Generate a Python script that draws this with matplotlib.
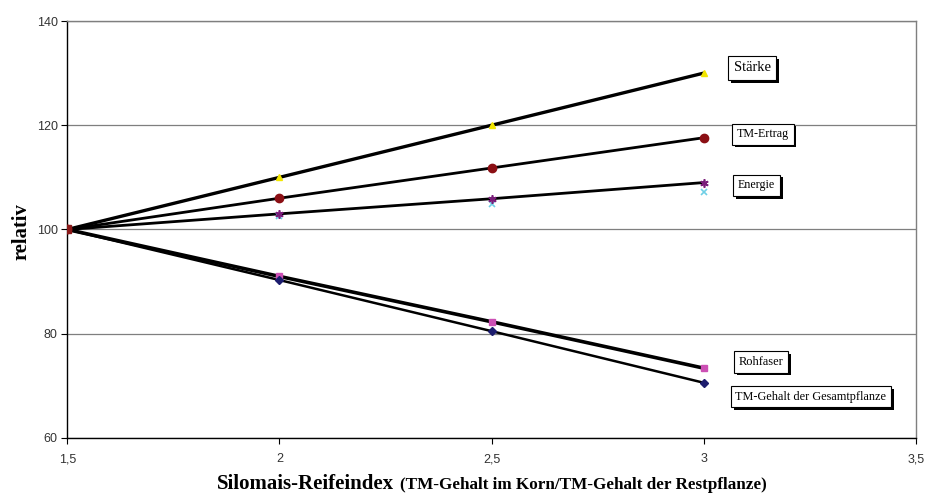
import matplotlib
matplotlib.use("Agg")
import matplotlib.pyplot as plt
import matplotlib.patheffects as pe

# Reifeindex values and relative response (1,5 = 100)
reifeindex = [1.5, 2.0, 2.5, 3.0]
staerke = [100, 110, 120, 130]
tm_ertrag = [100, 106, 111.8, 117.6]
energie = [100, 103, 105.9, 109]
energie_b = [100, 102.5, 104.8, 107.1]
rohfaser = [100, 91, 82.3, 73.4]
tm_gehalt = [100, 90.3, 80.5, 70.6]

x_ticks = [1.5, 2.0, 2.5, 3.0, 3.5]
x_ticklabels = ["1,5", "2", "2,5", "3", "3,5"]
y_ticks = [60, 80, 100, 120, 140]

W, H = 925, 493
fig = plt.figure(figsize=(W / 100, H / 100), dpi=100)
ax = fig.add_axes([0.0728, 0.1116, 0.9172, 0.8458])
renderer = fig.canvas.get_renderer()


def fit_size(artist, target_px, horizontal=True):
    # scale the font so the drawn text spans target_px
    bb = artist.get_window_extent(renderer)
    span = bb.width if horizontal else bb.height
    artist.set_fontsize(artist.get_fontsize() * target_px / span)


ax.set_xlim(1.5, 3.5)
ax.set_ylim(60, 140)
ax.set_xticks(x_ticks)
ax.set_xticklabels(x_ticklabels)
ax.set_yticks(y_ticks)
ax.tick_params(axis="both", direction="out", length=4, width=0.8, labelsize=9,
               colors="black")
ax.tick_params(axis="y", pad=3)
ax.tick_params(axis="x", pad=7)
for lbl in ax.get_xticklabels() + ax.get_yticklabels():
    lbl.set_fontfamily("Liberation Sans")
    lbl.set_color("#333333")

ax.grid(axis="y", color="#7f7f7f", linewidth=0.9)
ax.set_axisbelow(True)
for side in ("top", "right"):
    ax.spines[side].set_color("#7f7f7f")
    ax.spines[side].set_linewidth(1.0)
for side in ("left", "bottom"):
    ax.spines[side].set_color("black")
    ax.spines[side].set_linewidth(1.0)

# black connecting lines
for series, lw in [(staerke, 2.4), (tm_ertrag, 2.0), (energie, 2.0),
                   (rohfaser, 2.6), (tm_gehalt, 1.8)]:
    ax.plot(reifeindex, series, color="black", linewidth=lw, zorder=3)

# markers
ax.plot(reifeindex, staerke, linestyle="none", marker="^", ms=5, color="#f2e600", zorder=4)
ax.plot(reifeindex, tm_ertrag, linestyle="none", marker="o", ms=6, color="#8b0f14", zorder=4)
ax.plot(reifeindex, energie_b, linestyle="none", marker="x", ms=5, mew=1.2, color="#6fcfe6", zorder=4)
ax.plot(reifeindex, energie, linestyle="none", marker=(6, 2, 0), ms=6, mew=1.2, color="#7a1d7a", zorder=4)
ax.plot(reifeindex, rohfaser, linestyle="none", marker="s", ms=5, color="#cc4fb4", zorder=4)
ax.plot(reifeindex, tm_gehalt, linestyle="none", marker="D", ms=4, color="#1c1c6e", zorder=4)
ax.plot([1.5], [100], linestyle="none", marker="s", ms=6, color="#8b1a1a", zorder=5)

# series labels in shadowed boxes: (x, y, text, text width in px)
labels = [
    (3.114, 131.0, "Stärke", 37),
    (3.14, 118.3, "TM-Ertrag", 52),
    (3.125, 108.5, "Energie", 37),
    (3.135, 74.6, "Rohfaser", 45),
    (3.253, 67.9, "TM-Gehalt der Gesamtpflanze", 150),
]
for lx, ly, txt, wpx in labels:
    t = ax.text(lx, ly, txt, ha="center", va="center", fontsize=9,
                fontfamily="Liberation Serif", color="black", zorder=6)
    fit_size(t, wpx)
    t.set_bbox(dict(boxstyle="square,pad=0.38", facecolor="white",
                    edgecolor="black", linewidth=0.8))
    t.get_bbox_patch().set_path_effects([
        pe.SimplePatchShadow(offset=(2, -2), shadow_rgbFace="black", alpha=1.0),
        pe.Normal(),
    ])

ylab = fig.text(21 / W, 1 - 232 / H, "relativ", rotation=90, ha="center", va="center",
                fontsize=15, fontweight="bold", fontfamily="Liberation Serif")
fit_size(ylab, 57, horizontal=False)

xl_main = fig.text(217 / W, 1 - 489 / H, "Silomais-Reifeindex", ha="left", va="baseline",
                   fontsize=14, fontweight="bold", fontfamily="Liberation Serif")
fit_size(xl_main, 178)
xl_sub = fig.text(400 / W, 1 - 489 / H, "(TM-Gehalt im Korn/TM-Gehalt der Restpflanze)",
                  ha="left", va="baseline", fontsize=11, fontweight="bold",
                  fontfamily="Liberation Serif")
fit_size(xl_sub, 367)

fig.savefig("out.png", dpi=100)
